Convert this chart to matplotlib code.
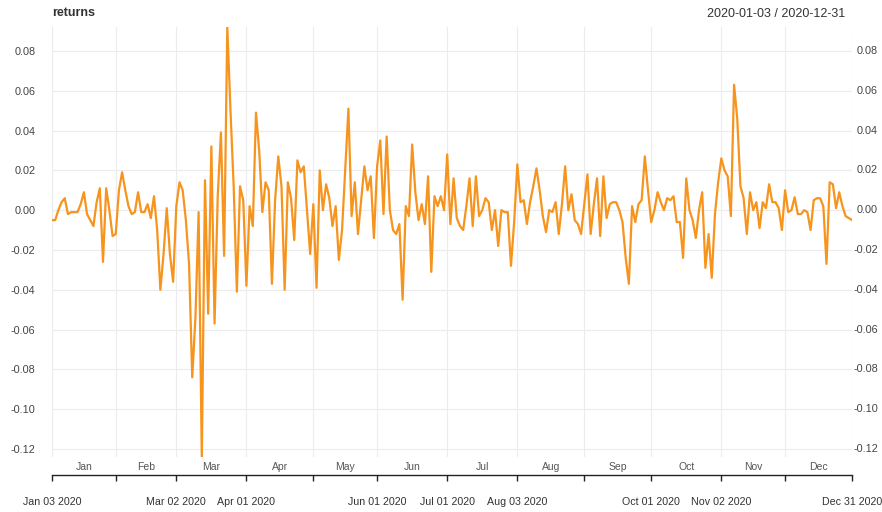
"""Daily returns for 2020 drawn as an xts style line chart."""

import numpy as np
import pandas as pd
import matplotlib
matplotlib.use('Agg')
import matplotlib.pyplot as plt
import matplotlib.transforms as transforms

plt.rcParams['font.family'] = ['Liberation Sans', 'DejaVu Sans']
plt.rcParams['axes.unicode_minus'] = False

# trading calendar for 2020 (first obs on Jan 03)
holidays = ['2020-01-20', '2020-02-17', '2020-04-10', '2020-05-25',
            '2020-07-03', '2020-09-07', '2020-11-26', '2020-12-25']
dates = pd.bdate_range('2020-01-03', '2020-12-31')
dates = dates[~dates.isin(pd.to_datetime(holidays))]

# daily returns, one value per trading day
returns = [
    -0.005, -0.005, 0.000, 0.004, 0.006, -0.002, -0.001, -0.001, -0.001, 0.003,
    0.009, -0.002, -0.005, -0.008, 0.004, 0.011, -0.026, 0.011, 0.000, -0.013,
    -0.012, 0.010, 0.019, 0.010, 0.002, -0.002, -0.001, 0.009, -0.001, -0.001,
    0.003, -0.004, 0.007, -0.010, -0.040, -0.022, 0.001, -0.022, -0.036, 0.002,
    0.014, 0.010, -0.005, -0.027, -0.084, -0.054, -0.001, -0.124, 0.015, -0.052,
    0.032, -0.057, 0.007, 0.039, -0.023, 0.092, 0.050, 0.012, -0.041, 0.012,
    0.005, -0.038, 0.002, -0.008, 0.049, 0.030, -0.001, 0.014, 0.010, -0.037,
    0.005, 0.027, 0.012, -0.040, 0.014, 0.006, -0.015, 0.025, 0.019, 0.022,
    0.000, -0.022, 0.003, -0.039, 0.020, 0.000, 0.013, 0.006, -0.008, 0.002,
    -0.025, -0.010, 0.020, 0.051, -0.003, 0.014, -0.012, 0.005, 0.022, 0.010,
    0.017, -0.014, 0.022, 0.035, -0.002, 0.037, 0.000, -0.010, -0.012, -0.007,
    -0.045, 0.002, -0.003, 0.033, 0.009, -0.005, 0.003, -0.007, 0.017, -0.031,
    0.007, 0.002, 0.007, 0.000, 0.028, -0.007, 0.016, -0.004, -0.008, -0.010,
    0.002, 0.016, -0.008, 0.017, -0.003, 0.000, 0.006, 0.004, -0.010, 0.000,
    -0.018, 0.000, -0.001, -0.001, -0.028, -0.006, 0.023, 0.004, 0.005, -0.007,
    0.004, 0.012, 0.021, 0.010, -0.003, -0.011, 0.000, -0.001, 0.004, -0.012,
    0.003, 0.022, 0.000, 0.008, -0.005, -0.007, -0.012, 0.003, 0.018, -0.012,
    0.003, 0.016, -0.013, 0.017, -0.004, 0.003, 0.004, 0.004, 0.000, -0.006,
    -0.024, -0.037, 0.002, -0.006, 0.003, 0.005, 0.027, 0.010, -0.006, 0.000,
    0.009, 0.004, 0.000, 0.006, 0.005, 0.007, -0.006, -0.006, -0.024, 0.016,
    0.000, -0.005, -0.014, 0.000, 0.009, -0.029, -0.012, -0.034, -0.002, 0.014,
    0.026, 0.020, 0.017, -0.003, 0.063, 0.046, 0.012, 0.006, -0.012, 0.009,
    0.000, 0.004, -0.009, 0.004, 0.001, 0.013, 0.004, 0.004, 0.001, -0.010,
    0.010, -0.001, 0.000, 0.0065, -0.002, -0.002, 0.000, -0.001, -0.010, 0.005,
    0.006, 0.006, 0.002, -0.027, 0.014, 0.013, 0.001, 0.009, 0.002, -0.003,
    -0.004, -0.005,
]

y_ticks = [-0.12, -0.10, -0.08, -0.06, -0.04, -0.02, 0.00, 0.02, 0.04, 0.06, 0.08]
month_names = ['Jan', 'Feb', 'Mar', 'Apr', 'May', 'Jun',
               'Jul', 'Aug', 'Sep', 'Oct', 'Nov', 'Dec']
# dates that get a label under the axis (the rest would overlap)
labelled_dates = ['2020-01-03', '2020-03-02', '2020-04-01', '2020-06-01', '2020-07-01',
                  '2020-08-03', '2020-10-01', '2020-11-02', '2020-12-31']

series = pd.Series(returns, index=dates)
x = np.arange(len(series))

# position of the first trading day of each month, plus the last obs
month_start = [int(np.argmax(dates.month == m)) for m in range(1, 13)]
tick_pos = month_start + [len(dates) - 1]
lab_set = set(pd.to_datetime(labelled_dates))
tick_lab = [dates[p].strftime('%b %d %Y') if dates[p] in lab_set else '' for p in tick_pos]

fig = plt.figure(figsize=(8.82, 5.12), dpi=100)
ax = fig.add_axes([52 / 882, 1 - 457 / 512, 800 / 882, 430 / 512])

ax.plot(x, series.values, color='#f7941d', lw=1.6, solid_joinstyle='round')
ax.set_xlim(0, len(series) - 1)
ax.set_ylim(series.min(), series.max())

# light grid, no box
ax.set_yticks(y_ticks)
ax.set_yticklabels(['%.2f' % v for v in y_ticks])
ax.set_xticks(tick_pos)
ax.set_xticklabels(tick_lab)
ax.grid(True, color='#ececec', lw=0.8)
ax.set_axisbelow(True)
for side in ['top', 'left', 'right']:
    ax.spines[side].set_visible(False)

# date axis drawn below the month names
ax.spines['bottom'].set_position(('outward', 13))
ax.spines['bottom'].set_color('#222222')
ax.spines['bottom'].set_linewidth(1.0)
ax.tick_params(axis='x', direction='out', length=4, width=1.0, color='#222222',
               pad=11.5, labelsize=7.7, labelcolor='#333333')

ax.tick_params(axis='y', length=0, labelsize=7.8, labelcolor='#444444', pad=12)

# same values repeated on the right, right aligned near the figure edge
ytrans = transforms.blended_transform_factory(ax.transAxes, ax.transData)
for v in y_ticks:
    ax.text(1 + 26 / 800, v, '%.2f' % v, transform=ytrans, ha='right', va='center',
            fontsize=7.8, color='#444444')

# month names centred in each month
trans = transforms.blended_transform_factory(ax.transData, ax.transAxes)
for i, name in enumerate(month_names):
    centre = (tick_pos[i] + tick_pos[i + 1]) / 2
    ax.text(centre, -0.023, name, transform=trans, ha='center', va='center',
            fontsize=7.5, color='#555555')

fig.text(52 / 882, 1 - 13 / 512, 'returns', fontsize=9, fontweight='bold',
         color='#333333', va='center', ha='left')
fig.text(845 / 882, 1 - 14 / 512, '%s / %s' % (dates[0].strftime('%Y-%m-%d'),
         dates[-1].strftime('%Y-%m-%d')), fontsize=9, color='#333333',
         va='center', ha='right')

fig.savefig('out.png', dpi=100)
